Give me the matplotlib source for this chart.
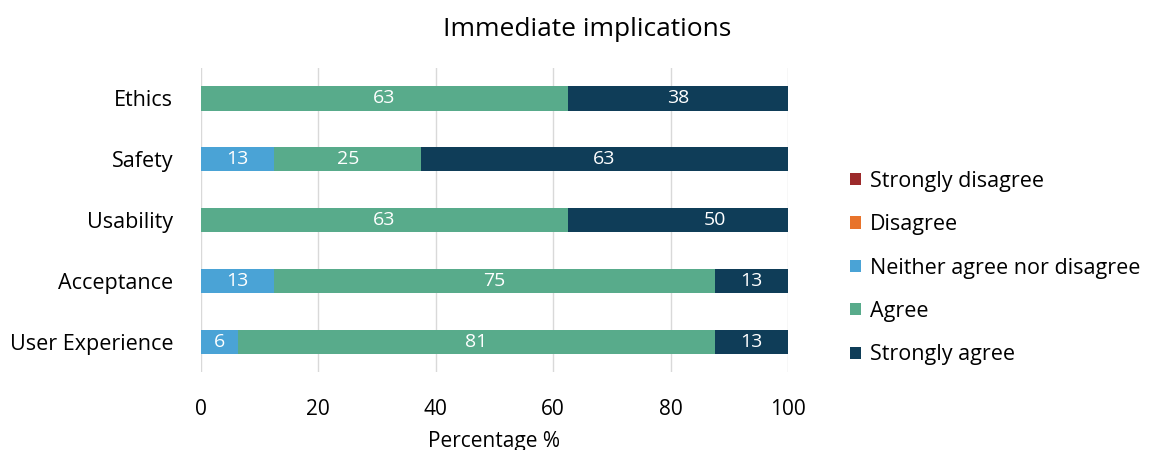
import math
import matplotlib
matplotlib.use("Agg")
import matplotlib.pyplot as plt

plt.rcParams['font.family'] = ['Open Sans', 'DejaVu Sans']

categories = ['Ethics', 'Safety', 'Usability', 'Acceptance', 'User Experience']
series = ['Strongly disagree', 'Disagree', 'Neither agree nor disagree', 'Agree', 'Strongly agree']
strongly_disagree = [0, 0, 0, 0, 0]
disagree = [0, 0, 0, 0, 0]
neither = [0, 12.5, 0, 12.5, 6.25]
agree = [62.5, 25, 62.5, 75, 81.25]
strongly_agree = [37.5, 62.5, 50, 12.5, 12.5]
colors = ['#9c2a2b', '#e8732b', '#4aa3d6', '#58ab8b', '#0f3d58']

fig = plt.figure(figsize=(11.51, 4.5), dpi=100)
ax = fig.add_axes([0.1746, 0.173, 0.51, 0.676])

ypos = list(range(len(categories)))[::-1]
left = [0] * len(categories)
for name, vals, col in zip(series, [strongly_disagree, disagree, neither, agree, strongly_agree], colors):
    ax.barh(ypos, vals, left=left, height=0.4, color=col, label=name, zorder=2)
    for y, l, v in zip(ypos, left, vals):
        if v > 0:
            ax.text(l + v / 2, y, str(math.floor(v + 0.5)), color='white',
                    ha='center', va='center', fontsize=14, zorder=3, clip_on=True)
    left = [a + b for a, b in zip(left, vals)]

ax.set_xlim(0, 100)
ax.set_ylim(-0.5, 4.5)
ax.set_yticks(ypos)
ax.set_yticklabels(categories, fontsize=15.5)
ax.set_xticks(range(0, 101, 20))
ax.tick_params(axis='x', labelsize=15, length=0, pad=19)
ax.tick_params(axis='y', length=0, pad=20)
ax.grid(axis='x', color='#d9d9d9', linewidth=1, zorder=0)
for s in ax.spines.values():
    s.set_visible(False)
ax.set_xlabel('Percentage %', fontsize=15, labelpad=8)

fig.text(0.51, 0.935, 'Immediate implications', ha='center', va='center', fontsize=19)

ax.legend(loc='center left', bbox_to_anchor=(1.073, 0.342), frameon=False, fontsize=15.5,
          handlelength=0.5, handleheight=0.5, handletextpad=0.42, labelspacing=1.04)

fig.savefig('out.png', dpi=100)
